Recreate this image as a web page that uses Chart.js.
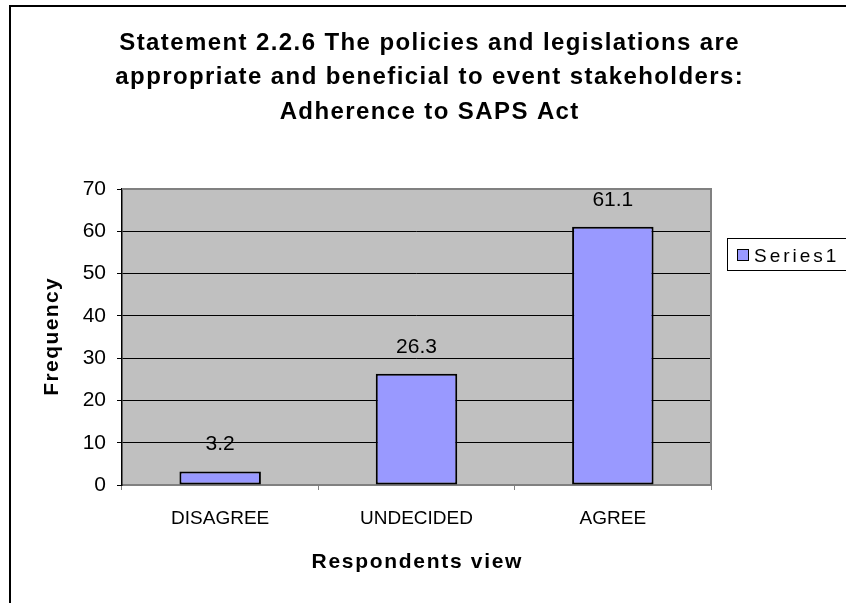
<!DOCTYPE html>
<html>
<head>
<meta charset="utf-8">
<script src="https://cdn.jsdelivr.net/npm/chart.js@4/dist/chart.umd.min.js"></script>
<style>
  html, body { margin: 0; padding: 0; background: #fff; }
  #wrap { width: 846px; height: 603px; }
</style>
</head>
<body>
<div id="wrap"><canvas id="c" width="846" height="603"></canvas></div>
<script>
// Survey responses (percent) per view
const categories = ['DISAGREE', 'UNDECIDED', 'AGREE'];
const seriesName = 'Series1';
const seriesValues = [3.2, 26.3, 61.1];
const yTicks = [0, 10, 20, 30, 40, 50, 60, 70];
const titleLines = [
  'Statement 2.2.6 The policies and legislations are',
  'appropriate and beneficial to event stakeholders:',
  'Adherence to SAPS Act'
];
const xAxisTitle = 'Respondents view';
const yAxisTitle = 'Frequency';

const FONT = "'Liberation Sans', Arial, sans-serif";
const BAR_FILL = '#9999FF';
const PLOT_BG = '#C0C0C0';
const PLOT_EDGE = '#808080';

// draws text with extra tracking between letters, anchored by its centre
function spacedText(ctx, text, cx, y, spacing) {
  ctx.letterSpacing = spacing + 'px';
  ctx.textAlign = 'left';
  const w = ctx.measureText(text).width - spacing;
  ctx.fillText(text, cx - w / 2, y);
  ctx.letterSpacing = '0px';
}

// white page, outer frame and grey plot background
const backdrop = {
  id: 'backdrop',
  beforeDraw(chart) {
    const { ctx, chartArea: a } = chart;
    ctx.save();
    ctx.fillStyle = '#fff';
    ctx.fillRect(0, 0, chart.width, chart.height);
    ctx.strokeStyle = '#000';
    ctx.lineWidth = 2;
    ctx.strokeRect(10, 6, chart.width + 10, chart.height + 10);
    ctx.fillStyle = PLOT_BG;
    ctx.fillRect(a.left, a.top, a.right - a.left, a.bottom - a.top);
    ctx.restore();
  },
  afterDraw(chart) {
    const { ctx, chartArea: a } = chart;
    ctx.save();
    // top and right edges of the plot area
    ctx.strokeStyle = PLOT_EDGE;
    ctx.lineWidth = 2;
    ctx.beginPath();
    ctx.moveTo(a.left, a.top);
    ctx.lineTo(a.right, a.top);
    ctx.lineTo(a.right, a.bottom);
    ctx.stroke();

    ctx.fillStyle = '#000';
    ctx.textBaseline = 'alphabetic';

    // chart title
    ctx.font = 'bold 24px ' + FONT;
    const baselines = [49.5, 84, 118.5];
    titleLines.forEach((line, i) => spacedText(ctx, line, 429, baselines[i], 1.4));

    // axis titles
    ctx.font = 'bold 21px ' + FONT;
    spacedText(ctx, xAxisTitle, (a.left + a.right) / 2, 568, 1.7);
    ctx.save();
    ctx.translate(58, (a.top + a.bottom) / 2);
    ctx.rotate(-Math.PI / 2);
    spacedText(ctx, yAxisTitle, 0, 0, 1.4);
    ctx.restore();

    // legend box
    const ds = chart.data.datasets[0];
    ctx.strokeStyle = '#000';
    ctx.lineWidth = 1;
    ctx.fillStyle = '#fff';
    ctx.fillRect(727.5, 238.5, 130, 32);
    ctx.strokeRect(727.5, 238.5, 130, 32);
    ctx.fillStyle = ds.backgroundColor;
    ctx.fillRect(737.5, 249.5, 11, 11);
    ctx.strokeRect(737.5, 249.5, 11, 11);
    ctx.fillStyle = '#000';
    ctx.font = '19px ' + FONT;
    ctx.textBaseline = 'alphabetic';
    ctx.letterSpacing = '3px';
    ctx.textAlign = 'left';
    ctx.fillText(ds.label, 754, 262);
    ctx.letterSpacing = '0px';
    ctx.restore();
  }
};

// value labels above each bar
const valueLabels = {
  id: 'valueLabels',
  afterDatasetsDraw(chart) {
    const { ctx } = chart;
    const meta = chart.getDatasetMeta(0);
    const data = chart.data.datasets[0].data;
    ctx.save();
    ctx.fillStyle = '#000';
    ctx.font = '21px ' + FONT;
    ctx.textAlign = 'center';
    ctx.textBaseline = 'alphabetic';
    meta.data.forEach((bar, i) => {
      ctx.fillText(String(data[i]), bar.x, bar.y - 21);
    });
    ctx.restore();
  }
};

new Chart(document.getElementById('c'), {
  type: 'bar',
  data: {
    labels: categories,
    datasets: [{
      label: seriesName,
      data: seriesValues,
      backgroundColor: BAR_FILL,
      borderColor: '#000',
      borderWidth: 2,
      borderSkipped: false,
      categoryPercentage: 1,
      barPercentage: 0.415
    }]
  },
  options: {
    responsive: false,
    animation: false,
    devicePixelRatio: 1,
    layout: { padding: { left: 10, right: 135, top: 189, bottom: 0 } },
    plugins: {
      legend: { display: false },
      tooltip: { enabled: false },
      title: { display: false }
    },
    scales: {
      x: {
        offset: true,
        afterFit(scale) { scale.height = 118; },
        grid: {
          display: true,
          offset: true,
          drawOnChartArea: false,
          drawTicks: true,
          tickLength: 5,
          color: PLOT_EDGE
        },
        border: { display: true, color: PLOT_EDGE, width: 2 },
        ticks: {
          color: '#000',
          padding: 17,
          font: { family: FONT, size: 19 }
        },
        title: { display: false }
      },
      y: {
        min: 0,
        max: 70,
        afterFit(scale) { scale.width = 112; },
        afterBuildTicks(scale) { scale.ticks = yTicks.map(v => ({ value: v })); },
        grid: {
          color: ctx => (ctx.tick && ctx.tick.value === 70 ? PLOT_EDGE : '#000'),
          tickColor: '#000',
          lineWidth: 1,
          drawTicks: true,
          tickLength: 5
        },
        border: { display: true, color: '#000', width: 1.5 },
        ticks: {
          color: '#000',
          padding: 11,
          font: { family: FONT, size: 21 }
        },
        title: { display: false }
      }
    }
  },
  plugins: [backdrop, valueLabels]
});
</script>
</body>
</html>
